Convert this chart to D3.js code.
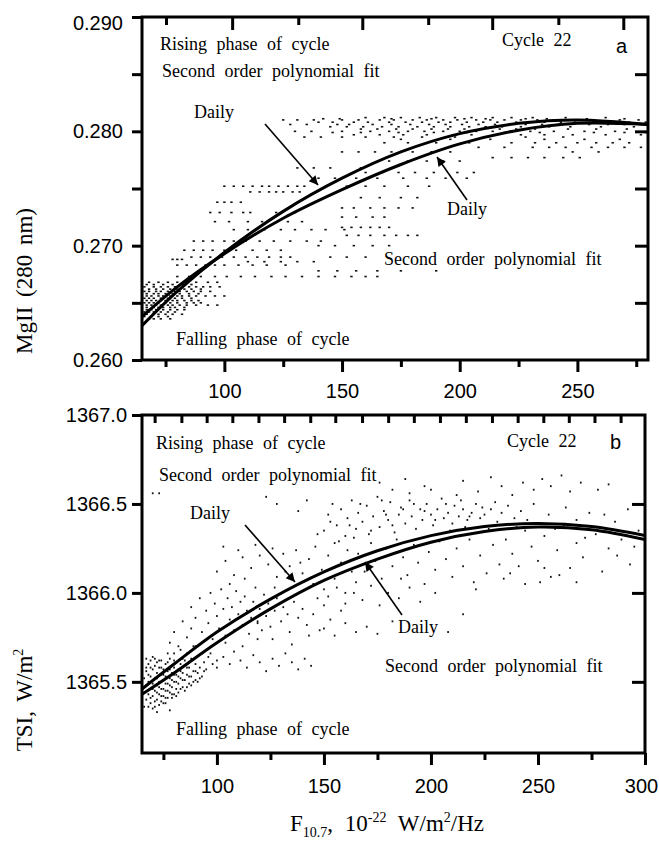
<!DOCTYPE html>
<html>
<head>
<meta charset="utf-8">
<title>MgII and TSI versus F10.7, cycle 22</title>
<script src="https://cdn.jsdelivr.net/npm/d3@7"></script>
<style>
  body { margin: 0; background: #fff; }
  svg { display: block; }
  .tick text { font-family: 'Liberation Sans', Arial, sans-serif; font-size: 20px; fill: #000; }
  .tick line { stroke: #000; stroke-width: 3; }
  .note { font-family: 'Liberation Serif', 'Times New Roman', serif; font-size: 18px; word-spacing: 5px; }
  .panel-letter { font-family: 'Liberation Sans', Arial, sans-serif; font-size: 20px; }
  .axis-title { font-family: 'Liberation Serif', 'Times New Roman', serif; font-size: 23px; word-spacing: 4px; }
</style>
</head>
<body>
<script>
// ---- panel a: MgII vs F10.7 ----
const fitF_a = [65, 80, 100, 125, 150, 175, 200, 225, 250, 280];
const risingFit_a = [0.2630, 0.2660, 0.2694, 0.2730, 0.2759, 0.2782, 0.2798, 0.2807, 0.2810, 0.2806];
const fallingFit_a = [0.2638, 0.2664, 0.2693, 0.2724, 0.2749, 0.2771, 0.2789, 0.2801, 0.2807, 0.2806];

// daily values come in rows (MgII is quantised): [value, F list]
const mgRows = [
  [0.2812, [160, 168, 175, 183, 190, 198, 205, 214, 222, 231, 245, 262]],
  [0.2811, [142, 149, 171, 188, 202, 211, 228, 237, 254, 270]],
  [0.2810, [125, 131, 138, 150, 157, 166, 172, 180, 186, 193, 199, 207, 213, 219, 226, 233, 240, 252, 268, 276]],
  [0.2808, [140, 146, 155, 161, 170, 177, 184, 191, 196, 203, 210, 216, 224, 229, 236, 243, 249, 257, 265, 272, 279]],
  [0.2806, [128, 135, 148, 153, 163, 171, 179, 187, 194, 201, 208, 215, 221, 228, 235, 242, 255, 263, 270]],
  [0.2804, [145, 152, 159, 167, 174, 182, 189, 196, 204, 211, 218, 226, 238, 247, 260, 274]],
  [0.2802, [158, 165, 173, 180, 188, 195, 202, 209, 217, 224, 232, 246, 258, 271]],
  [0.2800, [130, 137, 150, 162, 170, 178, 185, 193, 200, 207, 214, 222, 230, 240, 253, 266]],
  [0.2799, [146, 158, 174, 189, 203, 219, 234, 257, 270, 279]],
  [0.2797, [155, 166, 176, 186, 197, 205, 215, 226, 236, 248, 262, 277]],
  [0.2795, [134, 141, 150, 160, 172, 184, 198, 212, 228, 244]],
  [0.2793, [175, 196, 213, 236, 253, 268]],
  [0.2790, [168, 178, 190, 204, 222, 232, 241, 250, 258, 265, 272]],
  [0.2786, [208, 219, 231, 238, 245, 256, 263, 270, 277]],
  [0.2782, [150, 157, 164, 171, 180, 188, 196, 248, 259]],
  [0.2777, [214, 222, 229, 236, 244, 251]],
  [0.2774, [170, 178, 186, 193, 200]],
  [0.2768, [131, 138, 145, 158]],
  [0.2764, [155, 160, 167, 174, 181, 189, 199, 206]],
  [0.2759, [140, 147, 156, 165, 176, 186, 194, 203]],
  [0.2752, [100, 104, 108, 112, 116, 119, 123, 127, 131, 134, 152, 160, 168, 178, 187]],
  [0.2747, [111, 115, 119, 122, 125, 129, 132]],
  [0.2742, [158, 166, 175, 182]],
  [0.2738, [97, 100, 103, 107]],
  [0.2733, [150, 155, 162, 168, 174, 180]],
  [0.2729, [94, 98, 103, 108, 111, 122, 130]],
  [0.2725, [150, 156, 163, 168]],
  [0.2721, [96, 102, 110, 116, 127, 133]],
  [0.2716, [150, 154, 158, 162, 166, 170]],
  [0.2714, [104, 110, 117, 124, 130, 137, 143, 151]],
  [0.2709, [152, 157, 162, 168, 173, 178, 182]],
  [0.2704, [87, 91, 95, 100, 104, 109, 115, 121, 128, 135, 141]],
  [0.2700, [140, 147, 155, 163, 170]],
  [0.2696, [83, 87, 91, 95, 100, 105, 112, 118, 124]],
  [0.2690, [86, 90, 94, 99, 104, 109, 114, 119, 124, 128, 145, 152, 160]],
  [0.2688, [78, 80, 82]],
  [0.2686, [110, 117, 124, 131, 138]],
  [0.2683, [80, 84, 88, 92, 96, 100, 106, 112, 118, 126]],
  [0.2678, [140, 148, 156, 165, 175, 190]],
  [0.2673, [80, 85, 90, 96, 101, 107, 113, 120, 126, 133, 140, 147, 154, 160, 165]],
  [0.2668, [68, 72, 76, 80, 84, 88, 93, 97]],
  [0.2666, [67, 70, 74, 78, 82, 86]],
  [0.2664, [66, 70, 73, 76, 79, 82, 85, 88, 91, 94, 98]],
  [0.2662, [65, 68, 71, 74, 77, 80, 83, 86, 90]],
  [0.2660, [66, 68, 71, 73, 76, 79, 81, 84, 87, 90, 94]],
  [0.2658, [65, 67, 70, 72, 75, 78, 81, 85, 89]],
  [0.2656, [65, 67, 69, 72, 74, 77, 80, 82, 85, 88, 92, 96, 100]],
  [0.2654, [66, 68, 70, 73, 76, 79, 82, 86]],
  [0.2652, [65, 67, 69, 71, 73, 75, 78, 80, 83, 86, 89]],
  [0.2650, [66, 68, 70, 72, 75, 77, 80, 84, 87, 90]],
  [0.2648, [65, 67, 69, 71, 73, 76, 78, 81, 84, 88, 93, 97]],
  [0.2646, [65, 67, 70, 72, 74, 77, 79, 83]],
  [0.2644, [65, 67, 69, 71, 74, 77, 80, 83]],
  [0.2642, [66, 68, 70, 73, 76, 79]],
  [0.2640, [65, 67, 70, 72, 75, 78, 82]],
  [0.2638, [66, 69, 72, 76]],
  [0.2636, [65, 68, 70, 73, 77]]
];

const mgTicks = [0.260, 0.270, 0.280, 0.290];
const mgMinorTicks = [0.265, 0.275, 0.285];
const mgRightTicks = [0.265, 0.270, 0.275, 0.280, 0.285];
const fTicks_a = [100, 150, 200, 250];
const fMinorTicks_a = [75, 125, 175, 225, 275];
const fTopTicks_a = [75.2, 103.3, 131.4, 158.6, 186.6, 213.8, 241.9, 269.5];

// ---- panel b: TSI vs F10.7 ----
const fitF_b = [65, 80, 100, 125, 150, 175, 200, 225, 250, 275, 300];
const risingFit_b = [1365.46, 1365.60, 1365.78, 1365.965, 1366.118, 1366.237, 1366.322, 1366.373, 1366.39, 1366.373, 1366.322];
const fallingFit_b = [1365.43, 1365.55, 1365.72, 1365.91, 1366.07, 1366.19, 1366.285, 1366.345, 1366.37, 1366.355, 1366.30];

const tsiPoints = [
  // dense low-activity cluster
  [66, 1365.44], [66, 1365.52], [66, 1365.47], [67, 1365.40], [67, 1365.48], [67, 1365.56], [68, 1365.43], [68, 1365.50],
  [68, 1365.60], [69, 1365.38], [69, 1365.46], [69, 1365.53], [70, 1365.42], [70, 1365.49], [70, 1365.57], [70, 1365.64],
  [71, 1365.36], [71, 1365.45], [71, 1365.52], [72, 1365.40], [72, 1365.48], [72, 1365.55], [72, 1365.61], [73, 1365.43],
  [73, 1365.50], [73, 1365.58], [74, 1365.39], [74, 1365.46], [74, 1365.54], [74, 1365.62], [75, 1365.42], [75, 1365.51],
  [75, 1365.57], [76, 1365.45], [76, 1365.53], [76, 1365.60], [77, 1365.41], [77, 1365.49], [77, 1365.56], [78, 1365.44],
  [78, 1365.52], [78, 1365.63], [79, 1365.47], [79, 1365.55], [80, 1365.43], [80, 1365.50], [80, 1365.58], [81, 1365.46],
  [81, 1365.54], [81, 1365.61], [82, 1365.49], [82, 1365.57], [83, 1365.52], [83, 1365.60], [84, 1365.47], [84, 1365.55],
  [85, 1365.51], [85, 1365.62], [86, 1365.54], [87, 1365.49], [87, 1365.58], [88, 1365.53], [88, 1365.63], [89, 1365.56],
  [90, 1365.51], [90, 1365.60], [91, 1365.55], [92, 1365.58], [93, 1365.53], [94, 1365.61], [95, 1365.57], [96, 1365.64],
  [98, 1365.60], [100, 1365.62], [67, 1365.58], [68, 1365.36], [69, 1365.62], [70, 1365.35], [71, 1365.59], [73, 1365.37],
  [75, 1365.46], [76, 1365.38], [77, 1365.66], [79, 1365.41], [80, 1365.66], [82, 1365.44], [83, 1365.68], [85, 1365.45],
  [86, 1365.66], [88, 1365.48], [89, 1365.70], [91, 1365.50], [93, 1365.66], [78, 1365.34], [72, 1365.33],
  [66, 1365.36], [67, 1365.63], [68, 1365.54], [69, 1365.41], [69, 1365.58], [70, 1365.46], [71, 1365.39], [71, 1365.63],
  [72, 1365.44], [72, 1365.52], [73, 1365.47], [73, 1365.62], [74, 1365.42], [74, 1365.58], [75, 1365.38], [75, 1365.54],
  [76, 1365.49], [76, 1365.41], [77, 1365.45], [77, 1365.61], [78, 1365.48], [78, 1365.57], [79, 1365.51], [79, 1365.43],
  [80, 1365.54], [80, 1365.62], [81, 1365.42], [81, 1365.50], [82, 1365.53], [83, 1365.46], [83, 1365.56], [84, 1365.51],
  [84, 1365.63], [86, 1365.47], [86, 1365.58], [87, 1365.53], [89, 1365.50], [90, 1365.56], [92, 1365.52], [94, 1365.56],
  // lower branch
  [97, 1365.66], [100, 1365.58], [103, 1365.64], [106, 1365.60], [108, 1365.67], [111, 1365.62], [114, 1365.58],
  [117, 1365.65], [120, 1365.61], [123, 1365.56], [126, 1365.63], [129, 1365.59], [132, 1365.66], [135, 1365.61],
  [138, 1365.57], [141, 1365.63], [144, 1365.59], [104, 1365.72], [112, 1365.70], [119, 1365.74],
  // rising spread
  [78, 1365.72], [80, 1365.78], [82, 1365.70], [84, 1365.84], [86, 1365.75], [88, 1365.80], [88, 1365.92], [90, 1365.70],
  [90, 1365.86], [92, 1365.97], [93, 1365.78], [95, 1365.90], [96, 1365.83], [97, 1366.00], [98, 1365.74], [99, 1365.94],
  [100, 1365.87], [101, 1365.80], [102, 1366.02], [103, 1365.91], [104, 1365.76], [105, 1365.97], [106, 1365.85],
  [107, 1365.92], [108, 1365.79], [109, 1366.01], [110, 1365.88], [111, 1365.95], [112, 1365.82], [113, 1365.98],
  [114, 1365.90], [115, 1365.77], [116, 1365.86], [117, 1365.95], [118, 1366.03], [119, 1365.83], [120, 1365.91],
  [121, 1365.79], [122, 1365.99], [123, 1365.87], [124, 1365.94], [125, 1365.81], [127, 1365.90], [128, 1365.97],
  [130, 1365.84], [131, 1365.92], [133, 1365.88], [134, 1365.78], [136, 1365.95], [138, 1365.86], [140, 1365.91],
  [142, 1365.82], [145, 1365.88], [148, 1365.79], [150, 1365.93], [153, 1365.85],
  [119, 1365.84], [126, 1365.74], [135, 1365.71], [143, 1365.76], [147, 1365.97], [158, 1365.90],
  [100, 1366.12], [104, 1366.18], [108, 1366.10], [112, 1366.20], [116, 1366.14], [120, 1366.21], [124, 1366.16],
  [128, 1366.09], [131, 1366.22], [134, 1366.15], [137, 1366.24], [140, 1366.11], [143, 1366.19], [146, 1366.26],
  [149, 1366.13], [152, 1366.21], [155, 1366.28], [158, 1366.17], [161, 1366.24], [164, 1366.31], [145, 1366.05],
  [150, 1366.02], [155, 1366.08], [160, 1366.00], [165, 1366.06], [103, 1366.26], [110, 1366.24], [118, 1366.27],
  [126, 1366.25], [123, 1366.54], [128, 1366.50], [138, 1366.46], [142, 1366.52], [70, 1366.56], [73, 1366.56],
  [106, 1366.05], [113, 1366.08], [127, 1366.03], [132, 1366.12], [139, 1366.17], [163, 1366.12], [170, 1366.16],
  // high-activity band
  [150, 1366.35], [152, 1366.44], [154, 1366.50], [156, 1366.38], [158, 1366.47], [160, 1366.32], [161, 1366.42],
  [163, 1366.52], [165, 1366.36], [166, 1366.45], [168, 1366.40], [170, 1366.49], [171, 1366.33], [173, 1366.43],
  [175, 1366.54], [176, 1366.37], [178, 1366.46], [180, 1366.41], [181, 1366.51], [183, 1366.34], [185, 1366.44],
  [186, 1366.48], [188, 1366.39], [190, 1366.52], [191, 1366.43], [193, 1366.36], [195, 1366.47], [196, 1366.41],
  [198, 1366.50], [200, 1366.44], [201, 1366.38], [203, 1366.47], [205, 1366.53], [206, 1366.42], [208, 1366.45],
  [210, 1366.39], [211, 1366.49], [213, 1366.43], [215, 1366.47], [217, 1366.41], [219, 1366.45], [221, 1366.50],
  [223, 1366.42], [225, 1366.44], [228, 1366.47], [231, 1366.40], [233, 1366.45], [236, 1366.49], [239, 1366.42],
  [242, 1366.46], [245, 1366.41], [190, 1366.56], [200, 1366.58], [212, 1366.55],
  [147, 1366.33], [153, 1366.40], [157, 1366.29], [162, 1366.38], [167, 1366.50], [172, 1366.35], [177, 1366.52],
  [179, 1366.44], [182, 1366.38], [187, 1366.47], [192, 1366.50], [197, 1366.46], [202, 1366.41], [207, 1366.50],
  [209, 1366.35], [214, 1366.52], [216, 1366.37], [218, 1366.43], [224, 1366.48], [227, 1366.36], [230, 1366.51],
  [240, 1366.37], [248, 1366.50], [255, 1366.44], [258, 1366.36], [263, 1366.48], [268, 1366.41], [272, 1366.31],
  [281, 1366.44], [287, 1366.21], [293, 1366.16],
  [176, 1366.62], [182, 1366.58], [188, 1366.64], [197, 1366.60], [215, 1366.63], [222, 1366.57], [228, 1366.65],
  [233, 1366.60], [238, 1366.55], [243, 1366.62], [248, 1366.58], [252, 1366.64], [256, 1366.60], [261, 1366.66],
  [265, 1366.57], [270, 1366.62], [278, 1366.58], [283, 1366.61],
  [235, 1366.30], [238, 1366.22], [241, 1366.15], [244, 1366.35], [247, 1366.26], [250, 1366.18], [253, 1366.32],
  [256, 1366.09], [259, 1366.24], [262, 1366.38], [265, 1366.14], [268, 1366.28], [271, 1366.20], [274, 1366.45],
  [277, 1366.33], [280, 1366.12], [283, 1366.25], [286, 1366.40], [289, 1366.30], [292, 1366.47], [295, 1366.26],
  [297, 1366.35], [251, 1366.06], [244, 1366.05], [260, 1366.10], [237, 1366.11], [253, 1366.14], [268, 1366.06],
  [166, 1366.22], [169, 1366.12], [172, 1366.28], [174, 1366.18], [177, 1366.08], [179, 1366.25], [182, 1366.15],
  [184, 1366.30], [187, 1366.20], [189, 1366.10], [192, 1366.27], [194, 1366.17], [197, 1366.05], [199, 1366.23],
  [202, 1366.13], [204, 1366.29], [207, 1366.19], [210, 1366.09], [212, 1366.25], [215, 1366.15], [218, 1366.30],
  [220, 1366.06], [223, 1366.21], [226, 1366.11], [229, 1366.27], [232, 1366.16], [234, 1366.08], [186, 1366.08],
  [152, 1365.98], [156, 1366.03], [160, 1365.94], [164, 1366.00], [168, 1365.96], [172, 1366.04], [176, 1365.93],
  [180, 1366.00], [185, 1365.97], [190, 1366.03], [195, 1365.95], [202, 1366.00], [221, 1366.02],
  [150, 1365.80], [155, 1365.76], [160, 1365.83], [165, 1365.78], [170, 1365.81], [175, 1365.77], [182, 1365.84],
  [208, 1365.78], [215, 1365.88]
];

const tsiTicks = [1365.5, 1366.0, 1366.5, 1367.0];
const tsiRightTicks = [1365.5, 1366.0, 1366.5];
const fTicks_b = [100, 150, 200, 250, 300];
const fMinorTicks_b = [75, 125, 175, 225, 275];
const fTopTicks_b = [70.9, 83.4, 95.2, 107.2, 119.4, 131.4, 143.6, 155.3, 167.8, 180.0,
                     192.0, 204.2, 216.3, 228.5, 240.5, 252.5, 264.4, 276.4, 288.6];

const svg = d3.select('body')
              .append('svg')
              .attr('width', 659)
              .attr('height', 842);

const defs = svg.append('defs');
defs.append('marker')
    .attr('id', 'head')
    .attr('viewBox', '0 0 10 10')
    .attr('refX', 10)
    .attr('refY', 5)
    .attr('markerWidth', 14)
    .attr('markerHeight', 9)
    .attr('markerUnits', 'userSpaceOnUse')
    .attr('orient', 'auto')
    .append('path')
    .attr('d', 'M0,0 L10,5 L0,10 Z')
    .attr('fill', '#000');

const drawPanel = (cfg) => {
  const { x, y, id } = cfg;
  const [left, right] = x.range();
  const [bottom, top] = y.range();
  const g = svg.append('g').attr('id', id);

  defs.append('clipPath')
      .attr('id', 'clip-' + id)
      .append('rect')
      .attr('x', left).attr('y', top)
      .attr('width', right - left).attr('height', bottom - top);

  // Scatter of daily values
  g.append('g')
   .attr('clip-path', 'url(#clip-' + id + ')')
   .selectAll('rect')
   .data(cfg.points)
   .enter()
   .append('rect')
   .attr('x', (d) => x(d[0]) - cfg.dotW / 2)
   .attr('y', (d) => y(d[1]) - cfg.dotH / 2)
   .attr('width', cfg.dotW)
   .attr('height', cfg.dotH)
   .attr('fill', '#111');

  // Fit curves
  const line = d3.line()
                 .x((d) => x(d[0]))
                 .y((d) => y(d[1]))
                 .curve(d3.curveCatmullRom);
  cfg.fits.forEach((vals) => {
    g.append('path')
     .datum(cfg.fitF.map((f, i) => [f, vals[i]]))
     .attr('clip-path', 'url(#clip-' + id + ')')
     .attr('d', line)
     .attr('fill', 'none')
     .attr('stroke', '#000')
     .attr('stroke-width', 3);
  });

  // Axes
  g.append('g')
   .attr('transform', 'translate(' + left + ',0)')
   .call(d3.axisLeft(y).tickValues(cfg.yTicks).tickSize(10).tickSizeOuter(0)
           .tickPadding(cfg.yPad).tickFormat(cfg.yFormat))
   .call((a) => a.select('.domain').remove())
   .call((a) => a.selectAll('.tick text')
                 .filter((d) => d === cfg.yTicks[cfg.yTicks.length - 1])
                 .attr('dy', cfg.topLabelDy));
  if (cfg.yMinor) {
    g.append('g')
     .attr('transform', 'translate(' + left + ',0)')
     .call(d3.axisLeft(y).tickValues(cfg.yMinor).tickSize(10).tickSizeOuter(0).tickFormat(''))
     .call((a) => a.select('.domain').remove());
  }
  g.append('g')
   .attr('transform', 'translate(' + right + ',0)')
   .call(d3.axisRight(y).tickValues(cfg.yRight).tickSize(-13).tickSizeOuter(0).tickFormat(''))
   .call((a) => a.select('.domain').remove());

  g.append('g')
   .attr('transform', 'translate(0,' + bottom + ')')
   .call(d3.axisBottom(x).tickValues(cfg.xTicks).tickSize(12).tickSizeOuter(0)
           .tickPadding(cfg.xPad).tickFormat(d3.format('d')))
   .call((a) => a.select('.domain').remove())
   .call((a) => a.selectAll('.tick text')
                 .filter((d) => d === 300)
                 .attr('dx', -4));
  g.append('g')
   .attr('transform', 'translate(0,' + bottom + ')')
   .call(d3.axisBottom(x).tickValues(cfg.xMinor).tickSize(7).tickSizeOuter(0).tickFormat(''))
   .call((a) => a.select('.domain').remove());

  g.append('g')
   .attr('transform', 'translate(0,' + top + ')')
   .call(d3.axisTop(x).tickValues(cfg.xTop).tickSize(-8).tickSizeOuter(0).tickFormat(''))
   .call((a) => a.select('.domain').remove())
   .call((a) => a.selectAll('.tick line')
                 .attr('y2', (d, i) => (cfg.topAlternate && i % 2 === 1) ? 13 : 8));

  // Frame
  g.append('rect')
   .attr('x', left).attr('y', top)
   .attr('width', right - left).attr('height', bottom - top)
   .attr('fill', 'none')
   .attr('stroke', '#000')
   .attr('stroke-width', 3);

  // Notes
  cfg.notes.forEach((n) => {
    g.append('text')
     .attr('class', n.cls || 'note')
     .attr('x', n.x)
     .attr('y', n.y)
     .text(n.text);
  });
  cfg.arrows.forEach((a) => {
    g.append('line')
     .attr('x1', a[0]).attr('y1', a[1])
     .attr('x2', a[2]).attr('y2', a[3])
     .attr('stroke', '#000')
     .attr('stroke-width', 1.6)
     .attr('marker-end', 'url(#head)');
  });
};

const mgPoints = mgRows.flatMap(([v, fs]) => fs.map((f) => [f, v]));

drawPanel({
  id: 'panel-a',
  x: d3.scaleLinear().domain([65, 280]).range([142, 648]),
  y: d3.scaleLinear().domain([0.260, 0.290]).range([360, 17]),
  points: mgPoints,
  dotW: 2.4,
  dotH: 1.6,
  fitF: fitF_a,
  fits: [risingFit_a, fallingFit_a],
  yTicks: mgTicks,
  yMinor: mgMinorTicks,
  yRight: mgRightTicks,
  yFormat: d3.format('.3f'),
  yPad: 9,
  topLabelDy: '0.62em',
  xTicks: fTicks_a,
  xMinor: fMinorTicks_a,
  xTop: fTopTicks_a,
  topAlternate: true,
  xPad: 12,
  notes: [
    { text: 'Rising phase of cycle', x: 160, y: 50 },
    { text: 'Second order polynomial fit', x: 162, y: 77 },
    { text: 'Cycle 22', x: 502, y: 46 },
    { text: 'a', x: 616, y: 53, cls: 'panel-letter' },
    { text: 'Daily', x: 194, y: 118 },
    { text: 'Daily', x: 447, y: 215 },
    { text: 'Second order polynomial fit', x: 384, y: 265 },
    { text: 'Falling phase of cycle', x: 176, y: 345 }
  ],
  arrows: [[265, 124, 318, 185], [467, 200, 437, 157]]
});

drawPanel({
  id: 'panel-b',
  x: d3.scaleLinear().domain([65, 300]).range([142, 645]),
  y: d3.scaleLinear().domain([1365.1, 1367.0]).range([753, 415]),
  points: tsiPoints,
  dotW: 1.7,
  dotH: 1.9,
  fitF: fitF_b,
  fits: [risingFit_b, fallingFit_b],
  yTicks: tsiTicks,
  yMinor: null,
  yRight: tsiRightTicks,
  yFormat: d3.format('.1f'),
  yPad: 5,
  topLabelDy: '0.32em',
  xTicks: fTicks_b,
  xMinor: fMinorTicks_b,
  xTop: fTopTicks_b,
  topAlternate: false,
  xPad: 14,
  notes: [
    { text: 'Rising phase of cycle', x: 156, y: 449 },
    { text: 'Second order polynomial fit', x: 159, y: 481 },
    { text: 'Cycle 22', x: 507, y: 447 },
    { text: 'b', x: 610, y: 449, cls: 'panel-letter' },
    { text: 'Daily', x: 190, y: 519 },
    { text: 'Daily', x: 398, y: 633 },
    { text: 'Second order polynomial fit', x: 385, y: 672 },
    { text: 'Falling phase of cycle', x: 176, y: 735 }
  ],
  arrows: [[245, 525, 295, 582], [402, 615, 365, 562]]
});

// Axis titles
svg.append('text')
   .attr('class', 'axis-title')
   .attr('transform', 'translate(32,281) rotate(-90)')
   .attr('text-anchor', 'middle')
   .text('MgII (280 nm)');

const tsiTitle = svg.append('text')
                    .attr('class', 'axis-title')
                    .attr('transform', 'translate(32,700) rotate(-90)')
                    .attr('text-anchor', 'middle');
tsiTitle.append('tspan').text('TSI, W/m');
tsiTitle.append('tspan').attr('dy', -9).style('font-size', '14px').text('2');

const xTitle = svg.append('text')
                  .attr('class', 'axis-title')
                  .attr('x', 290)
                  .attr('y', 831)
                  .style('word-spacing', '6px');
xTitle.append('tspan').text('F');
xTitle.append('tspan').attr('dy', 6).style('font-size', '14px').text('10.7');
xTitle.append('tspan').attr('dy', -6).text(',  10');
xTitle.append('tspan').attr('dy', -9).style('font-size', '14px').text('-22');
xTitle.append('tspan').attr('dy', 9).text('  W/m');
xTitle.append('tspan').attr('dy', -9).style('font-size', '14px').text('2');
xTitle.append('tspan').attr('dy', 9).text('/Hz');
</script>
</body>
</html>
